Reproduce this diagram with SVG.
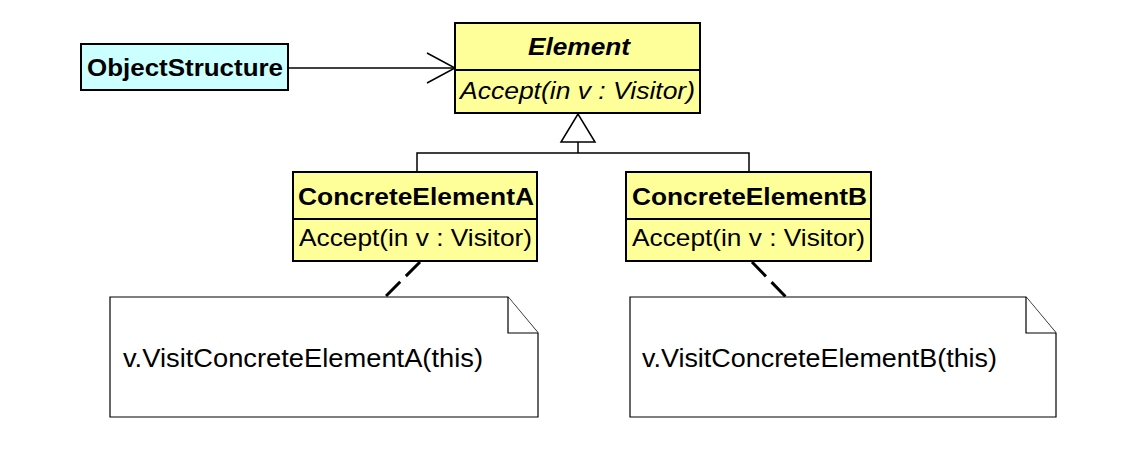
<svg xmlns="http://www.w3.org/2000/svg" width="1131" height="449" viewBox="0 0 1131 449">
<style>
.box{stroke:#000;stroke-width:2}
.cls{fill:#ffff99}
.os{fill:#ccffff}
.t{font-family:"Liberation Sans",Arial,sans-serif;font-size:24px;fill:#000}
.n{font-size:25px}
.b{font-weight:bold}
.i{font-style:italic}
.ln{fill:none;stroke:#000;stroke-width:1.5}
.dash{fill:none;stroke:#000;stroke-width:3;stroke-dasharray:20,8}
.note{fill:#fff;stroke:#000;stroke-width:1.2}
</style>
<rect width="1131" height="449" fill="#fff"/>
<g id="connectors">
<line class="ln" x1="288" y1="68" x2="455" y2="68"/>
<polyline class="ln" points="427,53 455,68 427,83"/>
<polygon class="ln" points="578,114 561,142 595,142" fill="#fff"/>
<line class="ln" x1="578" y1="142" x2="578" y2="153"/>
<polyline class="ln" points="417,172 417,153 749,153 749,172"/>
<line class="dash" x1="420" y1="262" x2="385" y2="297"/>
<line class="dash" x1="752" y1="262" x2="786" y2="297"/>
</g>
<g id="ObjectStructure">
<rect class="box os" x="81" y="44" width="207" height="46"/>
<text class="t b" x="87" y="76" textLength="196" lengthAdjust="spacingAndGlyphs">ObjectStructure</text>
</g>
<g id="Element">
<rect class="box cls" x="455" y="23" width="245" height="90"/>
<line class="box" x1="455" y1="70" x2="700" y2="70"/>
<text class="t b i" x="528" y="55" textLength="102" lengthAdjust="spacingAndGlyphs">Element</text>
<text class="t i" x="460" y="99" textLength="235" lengthAdjust="spacingAndGlyphs">Accept(in v : Visitor)</text>
</g>
<g id="ConcreteElementA">
<rect class="box cls" x="293" y="172" width="244" height="89"/>
<line class="box" x1="293" y1="219" x2="537" y2="219"/>
<text class="t b" x="298" y="205" textLength="236" lengthAdjust="spacingAndGlyphs">ConcreteElementA</text>
<text class="t" x="299" y="246" textLength="233" lengthAdjust="spacingAndGlyphs">Accept(in v : Visitor)</text>
</g>
<g id="ConcreteElementB">
<rect class="box cls" x="626" y="172" width="245" height="89"/>
<line class="box" x1="626" y1="219" x2="871" y2="219"/>
<text class="t b" x="632" y="205" textLength="235" lengthAdjust="spacingAndGlyphs">ConcreteElementB</text>
<text class="t" x="632" y="246" textLength="233" lengthAdjust="spacingAndGlyphs">Accept(in v : Visitor)</text>
</g>
<g id="NoteA">
<path class="note" d="M110,297 H508 L538,333 V417 H110 Z"/>
<polyline class="note" fill="none" points="508,297 508,333 538,333"/>
<text class="t n" x="123" y="367" textLength="360" lengthAdjust="spacingAndGlyphs">v.VisitConcreteElementA(this)</text>
</g>
<g id="NoteB">
<path class="note" d="M630,297 H1026 L1056,333 V417 H630 Z"/>
<polyline class="note" fill="none" points="1026,297 1026,333 1056,333"/>
<text class="t n" x="642" y="367" textLength="355" lengthAdjust="spacingAndGlyphs">v.VisitConcreteElementB(this)</text>
</g>
</svg>
